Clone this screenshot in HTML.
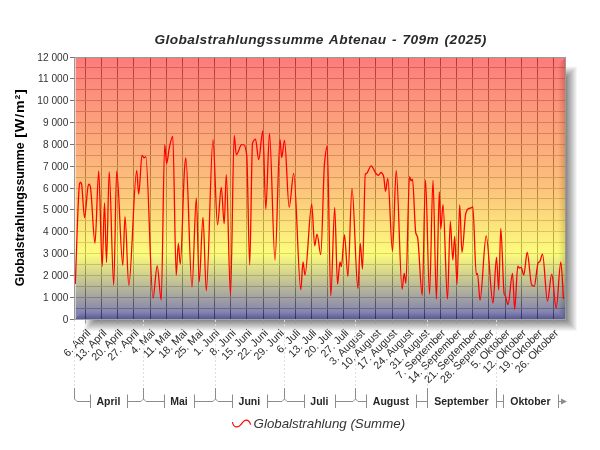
<!DOCTYPE html>
<html><head><meta charset="utf-8"><title>Globalstrahlungssumme Abtenau</title><style>html,body{margin:0;padding:0;background:#fff}body{width:600px;height:450px;position:relative;overflow:hidden;font-family:"Liberation Sans",sans-serif}svg text{font-family:"Liberation Sans",sans-serif}</style></head><body><svg width="600" height="450" viewBox="0 0 600 450" style="position:absolute;left:0;top:0">
<defs>
<linearGradient id="bg" x1="0" y1="0" x2="0" y2="1"><stop offset="0.0000" stop-color="rgb(250,37,37)"/><stop offset="0.4989" stop-color="rgb(250,155,37)"/><stop offset="0.7500" stop-color="rgb(252,250,40)"/><stop offset="1.0000" stop-color="rgb(28,28,133)"/></linearGradient>
<linearGradient id="shR" x1="0" y1="0" x2="1" y2="0"><stop offset="0" stop-color="#000" stop-opacity="0.47"/><stop offset="1" stop-color="#000" stop-opacity="0"/></linearGradient>
<linearGradient id="shB" x1="0" y1="0" x2="0" y2="1"><stop offset="0" stop-color="#000" stop-opacity="0.47"/><stop offset="1" stop-color="#000" stop-opacity="0"/></linearGradient>
<linearGradient id="bvR" x1="0" y1="0" x2="1" y2="0"><stop offset="0" stop-color="#000" stop-opacity="0"/><stop offset="1" stop-color="#000" stop-opacity="0.3"/></linearGradient>
<linearGradient id="bvB" x1="0" y1="0" x2="0" y2="1"><stop offset="0" stop-color="#000" stop-opacity="0"/><stop offset="1" stop-color="#000" stop-opacity="0.3"/></linearGradient>
<linearGradient id="bvL" x1="0" y1="0" x2="1" y2="0"><stop offset="0" stop-color="#fff" stop-opacity="0.22"/><stop offset="1" stop-color="#fff" stop-opacity="0"/></linearGradient>
<filter id="blur" x="-10%" y="-10%" width="130%" height="130%"><feGaussianBlur stdDeviation="0.6"/></filter>
</defs>
<linearGradient id="shT" x1="0" y1="0" x2="0" y2="1"><stop offset="0" stop-color="#000" stop-opacity="0"/><stop offset="1" stop-color="#000" stop-opacity="0.47"/></linearGradient>
<linearGradient id="shL" x1="0" y1="0" x2="1" y2="0"><stop offset="0" stop-color="#000" stop-opacity="0"/><stop offset="1" stop-color="#000" stop-opacity="0.47"/></linearGradient>
<g filter="url(#blur)">
<polygon points="566,77.5 577.5,66 577.5,331.5 566,320" fill="url(#shR)"/>
<polygon points="566,66 577.5,66 566,77.5" fill="url(#shT)"/>
<polygon points="95.5,320 566,320 577.5,331.5 84,331.5" fill="url(#shB)"/>
<polygon points="84,320 95.5,320 84,331.5" fill="url(#shL)"/>
</g>
<rect x="75" y="58" width="490" height="261" fill="#fff"/>
<line x1="85.50" y1="58" x2="85.50" y2="319" stroke="#5a5a5a" stroke-width="1"/><line x1="101.50" y1="58" x2="101.50" y2="319" stroke="#5a5a5a" stroke-width="1"/><line x1="117.50" y1="58" x2="117.50" y2="319" stroke="#5a5a5a" stroke-width="1"/><line x1="133.50" y1="58" x2="133.50" y2="319" stroke="#5a5a5a" stroke-width="1"/><line x1="150.50" y1="58" x2="150.50" y2="319" stroke="#5a5a5a" stroke-width="1"/><line x1="166.50" y1="58" x2="166.50" y2="319" stroke="#5a5a5a" stroke-width="1"/><line x1="182.50" y1="58" x2="182.50" y2="319" stroke="#5a5a5a" stroke-width="1"/><line x1="198.50" y1="58" x2="198.50" y2="319" stroke="#5a5a5a" stroke-width="1"/><line x1="214.50" y1="58" x2="214.50" y2="319" stroke="#5a5a5a" stroke-width="1"/><line x1="230.50" y1="58" x2="230.50" y2="319" stroke="#5a5a5a" stroke-width="1"/><line x1="246.50" y1="58" x2="246.50" y2="319" stroke="#5a5a5a" stroke-width="1"/><line x1="263.50" y1="58" x2="263.50" y2="319" stroke="#5a5a5a" stroke-width="1"/><line x1="279.50" y1="58" x2="279.50" y2="319" stroke="#5a5a5a" stroke-width="1"/><line x1="295.50" y1="58" x2="295.50" y2="319" stroke="#5a5a5a" stroke-width="1"/><line x1="311.50" y1="58" x2="311.50" y2="319" stroke="#5a5a5a" stroke-width="1"/><line x1="327.50" y1="58" x2="327.50" y2="319" stroke="#5a5a5a" stroke-width="1"/><line x1="343.50" y1="58" x2="343.50" y2="319" stroke="#5a5a5a" stroke-width="1"/><line x1="359.50" y1="58" x2="359.50" y2="319" stroke="#5a5a5a" stroke-width="1"/><line x1="375.50" y1="58" x2="375.50" y2="319" stroke="#5a5a5a" stroke-width="1"/><line x1="392.50" y1="58" x2="392.50" y2="319" stroke="#5a5a5a" stroke-width="1"/><line x1="408.50" y1="58" x2="408.50" y2="319" stroke="#5a5a5a" stroke-width="1"/><line x1="424.50" y1="58" x2="424.50" y2="319" stroke="#5a5a5a" stroke-width="1"/><line x1="440.50" y1="58" x2="440.50" y2="319" stroke="#5a5a5a" stroke-width="1"/><line x1="456.50" y1="58" x2="456.50" y2="319" stroke="#5a5a5a" stroke-width="1"/><line x1="472.50" y1="58" x2="472.50" y2="319" stroke="#5a5a5a" stroke-width="1"/><line x1="488.50" y1="58" x2="488.50" y2="319" stroke="#5a5a5a" stroke-width="1"/><line x1="505.50" y1="58" x2="505.50" y2="319" stroke="#5a5a5a" stroke-width="1"/><line x1="521.50" y1="58" x2="521.50" y2="319" stroke="#5a5a5a" stroke-width="1"/><line x1="537.50" y1="58" x2="537.50" y2="319" stroke="#5a5a5a" stroke-width="1"/><line x1="553.50" y1="58" x2="553.50" y2="319" stroke="#5a5a5a" stroke-width="1"/><line x1="75" y1="308.50" x2="565" y2="308.50" stroke="#a6a6a6" stroke-width="1"/><line x1="75" y1="297.50" x2="565" y2="297.50" stroke="#a6a6a6" stroke-width="1"/><line x1="75" y1="286.50" x2="565" y2="286.50" stroke="#a6a6a6" stroke-width="1"/><line x1="75" y1="275.50" x2="565" y2="275.50" stroke="#a6a6a6" stroke-width="1"/><line x1="75" y1="264.50" x2="565" y2="264.50" stroke="#a6a6a6" stroke-width="1"/><line x1="75" y1="253.50" x2="565" y2="253.50" stroke="#a6a6a6" stroke-width="1"/><line x1="75" y1="242.50" x2="565" y2="242.50" stroke="#a6a6a6" stroke-width="1"/><line x1="75" y1="231.50" x2="565" y2="231.50" stroke="#a6a6a6" stroke-width="1"/><line x1="75" y1="220.50" x2="565" y2="220.50" stroke="#a6a6a6" stroke-width="1"/><line x1="75" y1="209.50" x2="565" y2="209.50" stroke="#a6a6a6" stroke-width="1"/><line x1="75" y1="198.50" x2="565" y2="198.50" stroke="#a6a6a6" stroke-width="1"/><line x1="75" y1="188.50" x2="565" y2="188.50" stroke="#a6a6a6" stroke-width="1"/><line x1="75" y1="177.50" x2="565" y2="177.50" stroke="#a6a6a6" stroke-width="1"/><line x1="75" y1="166.50" x2="565" y2="166.50" stroke="#a6a6a6" stroke-width="1"/><line x1="75" y1="155.50" x2="565" y2="155.50" stroke="#a6a6a6" stroke-width="1"/><line x1="75" y1="144.50" x2="565" y2="144.50" stroke="#a6a6a6" stroke-width="1"/><line x1="75" y1="133.50" x2="565" y2="133.50" stroke="#a6a6a6" stroke-width="1"/><line x1="75" y1="122.50" x2="565" y2="122.50" stroke="#a6a6a6" stroke-width="1"/><line x1="75" y1="111.50" x2="565" y2="111.50" stroke="#a6a6a6" stroke-width="1"/><line x1="75" y1="100.50" x2="565" y2="100.50" stroke="#a6a6a6" stroke-width="1"/><line x1="75" y1="89.50" x2="565" y2="89.50" stroke="#a6a6a6" stroke-width="1"/><line x1="75" y1="78.50" x2="565" y2="78.50" stroke="#a6a6a6" stroke-width="1"/><line x1="75" y1="67.50" x2="565" y2="67.50" stroke="#a6a6a6" stroke-width="1"/>
<polygon points="558,65 565,58 565,319 558,312" fill="url(#bvR)"/>
<polygon points="82,312 558,312 565,319 75,319" fill="url(#bvB)"/>
<rect x="75" y="58" width="490" height="261" fill="url(#bg)" fill-opacity="0.6"/>
<line x1="75.5" y1="58" x2="75.5" y2="319" stroke="#fff" stroke-opacity="0.55"/>
<line x1="74" y1="57.5" x2="566" y2="57.5" stroke="#929e9e"/>
<line x1="565.5" y1="57" x2="565.5" y2="320" stroke="#939c9c"/>
<line x1="74.5" y1="57" x2="74.5" y2="320" stroke="#999"/>
<line x1="70" y1="319.5" x2="566" y2="319.5" stroke="#a6a6a0"/>
<line x1="70" y1="319.5" x2="74" y2="319.5" stroke="#777"/><line x1="70" y1="297.5" x2="74" y2="297.5" stroke="#777"/><line x1="70" y1="275.5" x2="74" y2="275.5" stroke="#777"/><line x1="70" y1="253.5" x2="74" y2="253.5" stroke="#777"/><line x1="70" y1="231.5" x2="74" y2="231.5" stroke="#777"/><line x1="70" y1="209.5" x2="74" y2="209.5" stroke="#777"/><line x1="70" y1="188.5" x2="74" y2="188.5" stroke="#777"/><line x1="70" y1="166.5" x2="74" y2="166.5" stroke="#777"/><line x1="70" y1="144.5" x2="74" y2="144.5" stroke="#777"/><line x1="70" y1="122.5" x2="74" y2="122.5" stroke="#777"/><line x1="70" y1="100.5" x2="74" y2="100.5" stroke="#777"/><line x1="70" y1="78.5" x2="74" y2="78.5" stroke="#777"/><line x1="70" y1="57.5" x2="74" y2="57.5" stroke="#777"/><line x1="85.50" y1="320" x2="85.50" y2="323.5" stroke="#999"/><line x1="101.50" y1="320" x2="101.50" y2="323.5" stroke="#999"/><line x1="117.50" y1="320" x2="117.50" y2="323.5" stroke="#999"/><line x1="133.50" y1="320" x2="133.50" y2="323.5" stroke="#999"/><line x1="150.50" y1="320" x2="150.50" y2="323.5" stroke="#999"/><line x1="166.50" y1="320" x2="166.50" y2="323.5" stroke="#999"/><line x1="182.50" y1="320" x2="182.50" y2="323.5" stroke="#999"/><line x1="198.50" y1="320" x2="198.50" y2="323.5" stroke="#999"/><line x1="214.50" y1="320" x2="214.50" y2="323.5" stroke="#999"/><line x1="230.50" y1="320" x2="230.50" y2="323.5" stroke="#999"/><line x1="246.50" y1="320" x2="246.50" y2="323.5" stroke="#999"/><line x1="263.50" y1="320" x2="263.50" y2="323.5" stroke="#999"/><line x1="279.50" y1="320" x2="279.50" y2="323.5" stroke="#999"/><line x1="295.50" y1="320" x2="295.50" y2="323.5" stroke="#999"/><line x1="311.50" y1="320" x2="311.50" y2="323.5" stroke="#999"/><line x1="327.50" y1="320" x2="327.50" y2="323.5" stroke="#999"/><line x1="343.50" y1="320" x2="343.50" y2="323.5" stroke="#999"/><line x1="359.50" y1="320" x2="359.50" y2="323.5" stroke="#999"/><line x1="375.50" y1="320" x2="375.50" y2="323.5" stroke="#999"/><line x1="392.50" y1="320" x2="392.50" y2="323.5" stroke="#999"/><line x1="408.50" y1="320" x2="408.50" y2="323.5" stroke="#999"/><line x1="424.50" y1="320" x2="424.50" y2="323.5" stroke="#999"/><line x1="440.50" y1="320" x2="440.50" y2="323.5" stroke="#999"/><line x1="456.50" y1="320" x2="456.50" y2="323.5" stroke="#999"/><line x1="472.50" y1="320" x2="472.50" y2="323.5" stroke="#999"/><line x1="488.50" y1="320" x2="488.50" y2="323.5" stroke="#999"/><line x1="505.50" y1="320" x2="505.50" y2="323.5" stroke="#999"/><line x1="521.50" y1="320" x2="521.50" y2="323.5" stroke="#999"/><line x1="537.50" y1="320" x2="537.50" y2="323.5" stroke="#999"/><line x1="553.50" y1="320" x2="553.50" y2="323.5" stroke="#999"/>
<clipPath id="cp"><rect x="75" y="58" width="490" height="261"/></clipPath>
<path d="M75.3 284.0C76.7 250.5 78.2 187.1 79.6 183.6C79.9 182.9 80.2 182.2 80.5 182.2C80.8 182.2 81.2 183.0 81.5 183.8C82.5 186.3 83.5 217.5 84.5 217.5C85.8 217.5 87.0 187.6 88.3 185.3C88.6 184.7 88.9 184.2 89.2 184.2C89.5 184.2 89.9 185.1 90.2 186.0C91.8 190.3 93.4 243.0 95.0 243.0C96.2 243.0 97.5 170.8 98.7 170.8C99.9 170.8 101.0 266.3 102.2 266.3C103.0 266.3 103.7 203.0 104.5 203.0C105.2 203.0 105.8 262.3 106.5 262.3C107.4 262.3 108.3 171.7 109.2 171.7C110.7 171.7 112.2 285.0 113.7 285.0C114.7 285.0 115.7 170.8 116.7 170.8C118.7 170.8 120.8 265.5 122.8 265.5C123.5 265.5 124.3 216.7 125.0 216.7C126.3 216.7 127.5 285.3 128.8 285.3C131.4 285.3 134.1 170.3 136.7 170.3C137.4 170.3 138.0 194.2 138.7 194.2C139.8 194.2 140.9 155.3 142.0 155.3C142.7 155.3 143.5 157.8 144.2 157.8C144.7 157.8 145.3 156.7 145.8 156.7C148.2 156.7 150.6 298.3 153.0 298.3C154.4 298.3 155.8 265.8 157.2 265.8C158.5 265.8 159.9 300.0 161.2 300.0C162.4 300.0 163.5 144.7 164.7 144.7C165.4 144.7 166.0 163.5 166.7 163.5C167.5 163.5 168.4 152.0 169.2 148.3C170.4 143.0 171.6 136.3 172.8 136.3C173.9 136.3 175.1 275.3 176.2 275.3C176.9 275.3 177.6 243.3 178.3 243.3C179.0 243.3 179.6 264.2 180.3 264.2C181.7 264.2 183.2 184.0 184.6 168.0C185.0 163.5 185.4 158.0 185.8 158.0C187.9 158.0 189.9 287.0 192.0 287.0C193.4 287.0 194.9 198.0 196.3 198.0C197.3 198.0 198.2 281.7 199.2 281.7C200.5 281.7 201.7 217.5 203.0 217.5C204.1 217.5 205.2 290.8 206.3 290.8C208.5 290.8 210.8 139.7 213.0 139.7C214.5 139.7 216.0 224.7 217.5 224.7C218.8 224.7 220.0 187.5 221.3 187.5C222.3 187.5 223.2 223.7 224.2 223.7C224.9 223.7 225.6 174.7 226.3 174.7C227.7 174.7 229.1 295.3 230.5 295.3C231.7 295.3 233.0 135.3 234.2 135.3C234.9 135.3 235.6 154.7 236.3 154.7C238.1 154.7 239.9 144.7 241.7 144.7C242.5 144.7 243.4 144.8 244.2 145.0C245.0 145.2 245.9 149.1 246.7 155.0C247.7 162.0 248.7 264.8 249.7 264.8C250.6 264.8 251.6 145.8 252.5 143.3C253.5 140.6 254.5 139.2 255.5 139.2C256.6 139.2 257.6 159.7 258.7 159.7C260.1 159.7 261.4 130.8 262.8 130.8C263.8 130.8 264.8 209.2 265.8 209.2C267.0 209.2 268.3 133.3 269.5 133.3C271.3 133.3 273.2 260.0 275.0 260.0C276.7 260.0 278.3 139.7 280.0 139.7C280.6 139.7 281.1 157.5 281.7 157.5C282.6 157.5 283.6 140.3 284.5 140.3C286.1 140.3 287.6 207.2 289.2 207.2C290.7 207.2 292.2 173.3 293.7 173.3C296.1 173.3 298.4 289.7 300.8 289.7C301.5 289.7 302.3 262.0 303.0 262.0C303.7 262.0 304.3 275.0 305.0 275.0C307.2 275.0 309.5 204.2 311.7 204.2C312.7 204.2 313.7 245.8 314.7 245.8C315.5 245.8 316.2 234.2 317.0 234.2C318.3 234.2 319.5 254.5 320.8 254.5C322.0 254.5 323.3 175.6 324.5 163.3C325.4 154.3 326.3 145.8 327.2 145.8C328.4 145.8 329.6 295.8 330.8 295.8C332.1 295.8 333.4 207.5 334.7 207.5C335.6 207.5 336.6 284.2 337.5 284.2C338.3 284.2 339.2 262.0 340.0 262.0C340.4 262.0 340.9 266.7 341.3 266.7C342.4 266.7 343.4 235.0 344.5 235.0C345.6 235.0 346.8 276.3 347.9 276.3C349.3 276.3 350.6 188.3 352.0 188.3C354.0 188.3 355.9 288.5 357.9 288.5C358.7 288.5 359.5 243.3 360.3 243.3C361.0 243.3 361.8 269.2 362.5 269.2C363.4 269.2 364.4 175.3 365.3 174.2C365.8 173.7 366.2 173.7 366.7 173.3C368.2 172.0 369.7 165.8 371.2 165.8C372.7 165.8 374.3 171.7 375.8 173.3C376.6 174.2 377.5 175.3 378.3 175.3C379.3 175.3 380.2 172.5 381.2 172.5C382.0 172.5 382.9 174.3 383.7 176.7C384.3 178.4 384.9 191.3 385.5 191.3C386.3 191.3 387.0 178.3 387.8 178.3C389.4 178.3 390.9 251.3 392.5 251.3C393.7 251.3 395.0 170.3 396.2 170.3C398.2 170.3 400.1 289.2 402.1 289.2C402.8 289.2 403.5 273.3 404.2 273.3C404.8 273.3 405.3 283.3 405.9 283.3C407.1 283.3 408.3 176.7 409.5 176.7C410.1 176.7 410.6 180.8 411.2 180.8C411.6 180.8 412.1 179.2 412.5 179.2C413.6 179.2 414.7 228.8 415.8 233.0C416.4 235.2 416.9 235.0 417.5 237.0C419.1 242.6 420.6 295.3 422.2 295.3C423.3 295.3 424.4 180.0 425.5 180.0C426.8 180.0 428.2 294.2 429.5 294.2C430.7 294.2 431.8 180.3 433.0 180.3C434.1 180.3 435.3 299.2 436.4 299.2C437.4 299.2 438.3 191.8 439.3 191.8C439.8 191.8 440.3 228.7 440.8 228.7C441.5 228.7 442.3 204.7 443.0 204.7C444.5 204.7 446.0 299.2 447.5 299.2C448.4 299.2 449.4 221.3 450.3 221.3C451.1 221.3 452.0 260.0 452.8 260.0C453.4 260.0 454.1 236.3 454.7 236.3C455.5 236.3 456.2 284.2 457.0 284.2C457.9 284.2 458.8 205.0 459.7 205.0C460.5 205.0 461.2 252.5 462.0 252.5C463.3 252.5 464.5 217.1 465.8 213.3C466.6 210.8 467.5 209.0 468.3 208.6C469.1 208.2 470.0 208.3 470.8 208.0C471.5 207.8 472.1 207.0 472.8 207.0C474.0 207.0 475.1 274.5 476.3 274.5C476.7 274.5 477.1 273.3 477.5 273.3C478.3 273.3 479.2 300.3 480.0 300.3C482.1 300.3 484.1 235.8 486.2 235.8C488.5 235.8 490.7 303.0 493.0 303.0C494.2 303.0 495.3 257.5 496.5 257.5C497.2 257.5 498.0 290.0 498.7 290.0C499.4 290.0 500.1 228.3 500.8 228.3C501.9 228.3 503.1 291.5 504.2 294.2C504.6 295.1 504.9 295.1 505.3 295.8C506.2 297.5 507.1 304.7 508.0 304.7C509.5 304.7 511.0 273.5 512.5 273.5C513.2 273.5 514.0 309.2 514.7 309.2C515.7 309.2 516.8 266.2 517.8 266.2C518.4 266.2 518.9 268.0 519.5 268.0C520.1 268.0 520.6 267.5 521.2 267.5C522.1 267.5 522.9 275.0 523.8 275.0C524.9 275.0 526.1 252.5 527.2 252.5C528.7 252.5 530.2 283.7 531.7 285.0C532.5 285.7 533.4 286.3 534.2 286.3C535.6 286.3 536.9 263.8 538.3 262.5C538.8 262.1 539.2 262.1 539.7 261.7C540.6 260.9 541.6 254.2 542.5 254.2C544.2 254.2 545.8 301.3 547.5 301.3C548.9 301.3 550.3 274.2 551.7 274.2C553.2 274.2 554.7 308.0 556.2 308.0C557.7 308.0 559.3 262.2 560.8 262.2C561.7 262.2 562.6 286.7 563.5 299.0" fill="none" stroke="#ff0000" stroke-width="1.28" stroke-linejoin="round" clip-path="url(#cp)"/>
<g opacity="0.999">
<text x="68.3" y="323.15" font-size="10.15" fill="#333" text-anchor="end">0</text>
<text x="68.3" y="301.15" font-size="10.15" fill="#333" text-anchor="end">1 000</text>
<text x="68.3" y="279.15" font-size="10.15" fill="#333" text-anchor="end">2 000</text>
<text x="68.3" y="257.15" font-size="10.15" fill="#333" text-anchor="end">3 000</text>
<text x="68.3" y="235.15" font-size="10.15" fill="#333" text-anchor="end">4 000</text>
<text x="68.3" y="213.15" font-size="10.15" fill="#333" text-anchor="end">5 000</text>
<text x="68.3" y="192.15" font-size="10.15" fill="#333" text-anchor="end">6 000</text>
<text x="68.3" y="170.15" font-size="10.15" fill="#333" text-anchor="end">7 000</text>
<text x="68.3" y="148.15" font-size="10.15" fill="#333" text-anchor="end">8 000</text>
<text x="68.3" y="126.15" font-size="10.15" fill="#333" text-anchor="end">9 000</text>
<text x="68.3" y="104.15" font-size="10.15" fill="#333" text-anchor="end">10 000</text>
<text x="68.3" y="82.15" font-size="10.15" fill="#333" text-anchor="end">11 000</text>
<text x="68.3" y="61.15" font-size="10.15" fill="#333" text-anchor="end">12 000</text>
<text transform="translate(91.12,333.70) rotate(-45)" font-size="10.7" fill="#2c2c2c" text-anchor="end" word-spacing="0.5">6. April</text>
<text transform="translate(107.25,333.70) rotate(-45)" font-size="10.7" fill="#2c2c2c" text-anchor="end" word-spacing="0.5">13. April</text>
<text transform="translate(123.39,333.70) rotate(-45)" font-size="10.7" fill="#2c2c2c" text-anchor="end" word-spacing="0.5">20. April</text>
<text transform="translate(139.53,333.70) rotate(-45)" font-size="10.7" fill="#2c2c2c" text-anchor="end" word-spacing="0.5">27. April</text>
<text transform="translate(155.66,333.70) rotate(-45)" font-size="10.7" fill="#2c2c2c" text-anchor="end" word-spacing="0.5">4. Mai</text>
<text transform="translate(171.79,333.70) rotate(-45)" font-size="10.7" fill="#2c2c2c" text-anchor="end" word-spacing="0.5">11. Mai</text>
<text transform="translate(187.93,333.70) rotate(-45)" font-size="10.7" fill="#2c2c2c" text-anchor="end" word-spacing="0.5">18. Mai</text>
<text transform="translate(204.06,333.70) rotate(-45)" font-size="10.7" fill="#2c2c2c" text-anchor="end" word-spacing="0.5">25. Mai</text>
<text transform="translate(220.20,333.70) rotate(-45)" font-size="10.7" fill="#2c2c2c" text-anchor="end" word-spacing="0.5">1. Juni</text>
<text transform="translate(236.34,333.70) rotate(-45)" font-size="10.7" fill="#2c2c2c" text-anchor="end" word-spacing="0.5">8. Juni</text>
<text transform="translate(252.47,333.70) rotate(-45)" font-size="10.7" fill="#2c2c2c" text-anchor="end" word-spacing="0.5">15. Juni</text>
<text transform="translate(268.61,333.70) rotate(-45)" font-size="10.7" fill="#2c2c2c" text-anchor="end" word-spacing="0.5">22. Juni</text>
<text transform="translate(284.74,333.70) rotate(-45)" font-size="10.7" fill="#2c2c2c" text-anchor="end" word-spacing="0.5">29. Juni</text>
<text transform="translate(300.88,333.70) rotate(-45)" font-size="10.7" fill="#2c2c2c" text-anchor="end" word-spacing="0.5">6. Juli</text>
<text transform="translate(317.01,333.70) rotate(-45)" font-size="10.7" fill="#2c2c2c" text-anchor="end" word-spacing="0.5">13. Juli</text>
<text transform="translate(333.15,333.70) rotate(-45)" font-size="10.7" fill="#2c2c2c" text-anchor="end" word-spacing="0.5">20. Juli</text>
<text transform="translate(349.28,333.70) rotate(-45)" font-size="10.7" fill="#2c2c2c" text-anchor="end" word-spacing="0.5">27. Juli</text>
<text transform="translate(365.42,333.70) rotate(-45)" font-size="10.7" fill="#2c2c2c" text-anchor="end" word-spacing="0.5">3. August</text>
<text transform="translate(381.55,333.70) rotate(-45)" font-size="10.7" fill="#2c2c2c" text-anchor="end" word-spacing="0.5">10. August</text>
<text transform="translate(397.69,333.70) rotate(-45)" font-size="10.7" fill="#2c2c2c" text-anchor="end" word-spacing="0.5">17. August</text>
<text transform="translate(413.82,333.70) rotate(-45)" font-size="10.7" fill="#2c2c2c" text-anchor="end" word-spacing="0.5">24. August</text>
<text transform="translate(429.96,333.70) rotate(-45)" font-size="10.7" fill="#2c2c2c" text-anchor="end" word-spacing="0.5">31. August</text>
<text transform="translate(446.09,333.70) rotate(-45)" font-size="10.7" fill="#2c2c2c" text-anchor="end" word-spacing="0.5">7. September</text>
<text transform="translate(462.23,333.70) rotate(-45)" font-size="10.7" fill="#2c2c2c" text-anchor="end" word-spacing="0.5">14. September</text>
<text transform="translate(478.36,333.70) rotate(-45)" font-size="10.7" fill="#2c2c2c" text-anchor="end" word-spacing="0.5">21. September</text>
<text transform="translate(494.50,333.70) rotate(-45)" font-size="10.7" fill="#2c2c2c" text-anchor="end" word-spacing="0.5">28. September</text>
<text transform="translate(510.63,333.70) rotate(-45)" font-size="10.7" fill="#2c2c2c" text-anchor="end" word-spacing="0.5">5. Oktober</text>
<text transform="translate(526.77,333.70) rotate(-45)" font-size="10.7" fill="#2c2c2c" text-anchor="end" word-spacing="0.5">12. Oktober</text>
<text transform="translate(542.90,333.70) rotate(-45)" font-size="10.7" fill="#2c2c2c" text-anchor="end" word-spacing="0.5">19. Oktober</text>
<text transform="translate(559.04,333.70) rotate(-45)" font-size="10.7" fill="#2c2c2c" text-anchor="end" word-spacing="0.5">26. Oktober</text>
<line x1="74.5" y1="320" x2="74.5" y2="388" stroke="#dedede" stroke-dasharray="2,2"/><line x1="143.5" y1="320" x2="143.5" y2="388" stroke="#dedede" stroke-dasharray="2,2"/><line x1="215.5" y1="320" x2="215.5" y2="388" stroke="#dedede" stroke-dasharray="2,2"/><line x1="284.5" y1="320" x2="284.5" y2="388" stroke="#dedede" stroke-dasharray="2,2"/><line x1="355.5" y1="320" x2="355.5" y2="388" stroke="#dedede" stroke-dasharray="2,2"/><line x1="427.5" y1="320" x2="427.5" y2="388" stroke="#dedede" stroke-dasharray="2,2"/><line x1="496.5" y1="320" x2="496.5" y2="388" stroke="#dedede" stroke-dasharray="2,2"/><path d="M74.5 388V399L77 401.5H90.5M90.5 394.5V408M127.5 394.5V408M127.5 401.5H141L143.5 399V388M143.5 399L146 401.5H164.5M164.5 394.5V408M194.5 394.5V408M194.5 401.5H213L215.5 399V388M215.5 399L218 401.5H232.5M232.5 394.5V408M267.5 394.5V408M267.5 401.5H282L284.5 399V388M284.5 399L287 401.5H304.5M304.5 394.5V408M335.5 394.5V408M335.5 401.5H353L355.5 399V388M355.5 399L358 401.5H366.5M366.5 394.5V408M416.5 394.5V408M416.5 401.5H427.5M427.5 388V408M427.5 394.5V408M496.5 394.5V408M496.5 401.5H503.5M496.5 388V408M503.5 394.5V408M558.5 394.5V408" fill="none" stroke="#8c8c8c" stroke-width="1"/><polygon points="561,398.5 567,401.5 561,404.5" fill="#8c8c8c"/><line x1="558.5" y1="401.5" x2="562" y2="401.5" stroke="#8c8c8c"/>
<text x="108.40" y="405" font-size="10.5" font-weight="bold" fill="#262626" text-anchor="middle">April</text>
<text x="178.90" y="405" font-size="10.5" font-weight="bold" fill="#262626" text-anchor="middle">Mai</text>
<text x="249.40" y="405" font-size="10.5" font-weight="bold" fill="#262626" text-anchor="middle">Juni</text>
<text x="319.40" y="405" font-size="10.5" font-weight="bold" fill="#262626" text-anchor="middle">Juli</text>
<text x="390.90" y="405" font-size="10.5" font-weight="bold" fill="#262626" text-anchor="middle">August</text>
<text x="461.40" y="405" font-size="10.5" font-weight="bold" fill="#262626" text-anchor="middle">September</text>
<text x="530.40" y="405" font-size="10.5" font-weight="bold" fill="#262626" text-anchor="middle">Oktober</text>
<text x="320.6" y="43.8" font-size="13.7" letter-spacing="0.43" word-spacing="1.2" font-weight="bold" font-style="italic" fill="#2a2a2a" text-anchor="middle">Globalstrahlungssumme Abtenau - 709m (2025)</text>
<text transform="translate(24.0,286.3) rotate(-90) scale(0.945,1)" font-size="13" font-weight="bold" fill="#000">Globalstrahlungssumme</text>
<text transform="translate(24.0,137.7) rotate(-90) scale(1.1,1)" font-size="13" font-weight="bold" fill="#000" letter-spacing="0.72">[W/m²]</text>
<path d="M232.4 422C232.9 424.6 234 426.4 236 426.8C238 427.2 239.2 426.4 240.6 424.8C242.2 423 243.2 420.7 245.4 420.3C247.6 419.9 249.4 420.6 250.6 424.7" fill="none" stroke="#ff0000" stroke-width="1.2"/>
<text x="253.6" y="427.9" font-size="13.3" font-style="italic" fill="#333">Globalstrahlung (Summe)</text>
</g>
</svg></body></html>
